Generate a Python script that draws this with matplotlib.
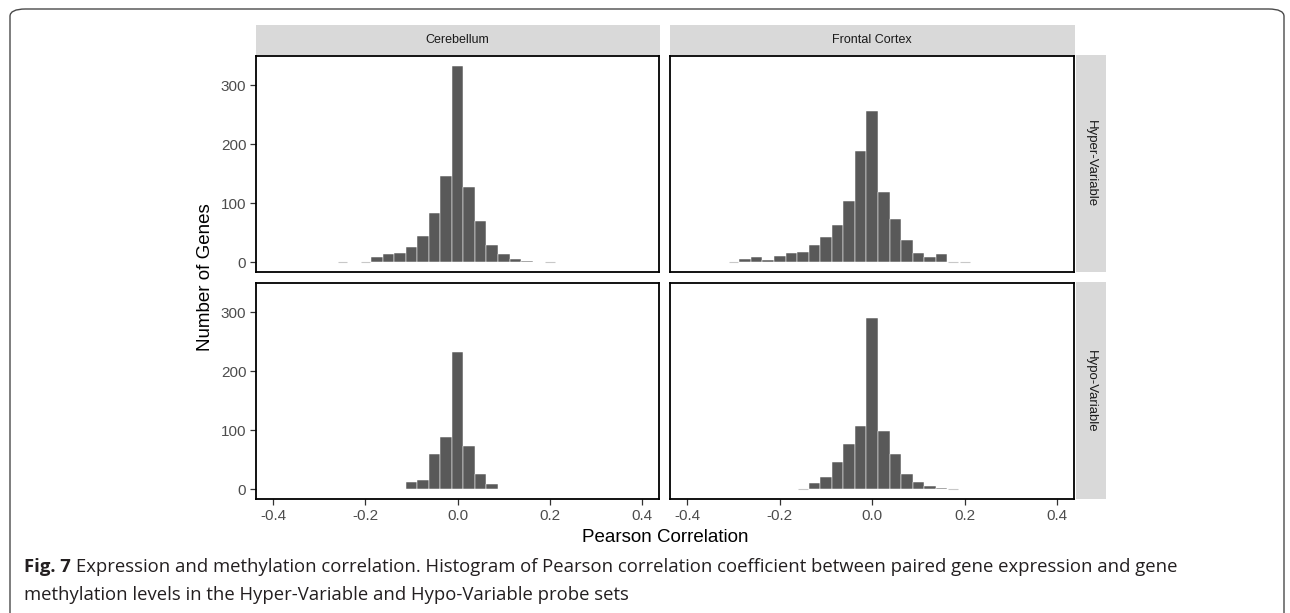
import numpy as np
import matplotlib.pyplot as plt
from matplotlib.patches import FancyBboxPatch, Rectangle

# histogram counts, bins of width 0.025 centred on k*0.025
bin_width = 0.025
regions = ['Cerebellum', 'Frontal Cortex']
probe_sets = ['Hyper-Variable', 'Hypo-Variable']

cereb_hyper_start = -10
cereb_hyper = [1, 0, 1, 9, 14, 15, 26, 45, 83, 146, 333, 128, 69, 29, 14, 6, 2, 0, 1]
frontal_hyper_start = -12
frontal_hyper = [1, 6, 8, 4, 11, 15, 17, 29, 43, 63, 103, 189, 256, 119, 73, 37, 15, 8, 14, 1, 1]
cereb_hypo_start = -4
cereb_hypo = [13, 15, 60, 88, 233, 73, 25, 8]
frontal_hypo_start = -6
frontal_hypo = [1, 11, 20, 46, 76, 107, 291, 99, 60, 25, 13, 6, 2, 1]

panels = {
    ('Hyper-Variable', 'Cerebellum'): (cereb_hyper_start, cereb_hyper),
    ('Hyper-Variable', 'Frontal Cortex'): (frontal_hyper_start, frontal_hyper),
    ('Hypo-Variable', 'Cerebellum'): (cereb_hypo_start, cereb_hypo),
    ('Hypo-Variable', 'Frontal Cortex'): (frontal_hypo_start, frontal_hypo),
}

W, H = 1290, 613
fig = plt.figure(figsize=(W / 100, H / 100), dpi=100)
plt.rcParams['font.family'] = ['Liberation Sans', 'DejaVu Sans']

def px(x0, y0, x1, y1):
    # pixel box (top-left origin) -> figure fraction
    return [x0 / W, 1 - y1 / H, (x1 - x0) / W, (y1 - y0) / H]

# outer rounded frame
frame = FancyBboxPatch((10 / W, -0.2), (W - 16) / W, 1.2 - 9 / H,
                       boxstyle='round,pad=0,rounding_size=0.012',
                       transform=fig.transFigure, fill=False,
                       edgecolor='#4a4a4a', linewidth=1.0)
fig.add_artist(frame)

col_x = [(256, 659), (670, 1074)]
row_y = [(56, 272), (283, 499)]
ymax = max(max(v) for _, v in panels.values())
ylim = (-0.05 * ymax, 1.05 * ymax)

for r, pset in enumerate(probe_sets):
    for c, reg in enumerate(regions):
        x0, x1 = col_x[c]
        y0, y1 = row_y[r]
        ax = fig.add_axes(px(x0, y0, x1, y1))
        start, counts = panels[(pset, reg)]
        counts = np.array(counts)
        centers = (np.arange(len(counts)) + start) * bin_width
        nz = counts > 0
        ax.bar(centers[nz], counts[nz], width=bin_width, color='#595959',
               edgecolor='white', linewidth=0.35)
        # single-gene bins show up as faint grey slivers
        one = counts == 1
        if one.any():
            ax.bar(centers[one], counts[one], width=bin_width * 0.85,
                   color='none', edgecolor='#c8c8c8', linewidth=0.8)
        ax.set_xlim(-0.4375, 0.4367)
        ax.set_ylim(*ylim)
        ax.set_xticks([-0.4, -0.2, 0.0, 0.2, 0.4])
        ax.set_yticks([0, 100, 200, 300])
        for s in ax.spines.values():
            s.set_linewidth(1.3)
            s.set_color('black')
        ax.tick_params(length=4, width=0.9, color='#333333',
                       labelsize=11, labelcolor='#4d4d4d', pad=3)
        if c != 0:
            ax.tick_params(axis='y', left=False, labelleft=False)
        if r != 1:
            ax.tick_params(axis='x', bottom=False, labelbottom=False)
        else:
            ax.set_xticklabels(['-0.4', '-0.2', '0.0', '0.2', '0.4'])

# column strips
for c, reg in enumerate(regions):
    x0, x1 = col_x[c]
    fig.add_artist(Rectangle((x0 / W, 1 - 55 / H), (x1 - x0 + 1) / W, 30 / H,
                             transform=fig.transFigure, facecolor='#d9d9d9',
                             edgecolor='none'))
    fig.text((x0 + x1) / 2 / W, 1 - 40 / H, reg, ha='center', va='center',
             fontsize=9, color='#1a1a1a')

# row strips
for r, pset in enumerate(probe_sets):
    y0, y1 = row_y[r]
    fig.add_artist(Rectangle((1076 / W, 1 - y1 / H), 30 / W, (y1 - y0 + 1) / H,
                             transform=fig.transFigure, facecolor='#d9d9d9',
                             edgecolor='none'))
    fig.text(1091 / W, 1 - (y0 + y1) / 2 / H, pset, ha='center', va='center',
             rotation=-90, fontsize=9.5, color='#1a1a1a')

fig.text(205 / W, 1 - 277 / H, 'Number of Genes', rotation=90,
         ha='center', va='center', fontsize=13.5, color='black')
fig.text(665 / W, 1 - 537 / H, 'Pearson Correlation', ha='center',
         va='center', fontsize=13.5, color='black')

# caption
cap_font = ['Open Sans', 'DejaVu Sans']
cap_size = 13.3
t1 = fig.text(24 / W, 1 - 567 / H, 'Fig. 7', ha='left', va='center',
              fontsize=cap_size, fontweight='bold', family=cap_font, color='#231f20')
renderer = fig.canvas.get_renderer()
end_x = t1.get_window_extent(renderer).x1
fig.text((end_x + 5) / W, 1 - 567 / H,
         'Expression and methylation correlation. Histogram of Pearson correlation '
         'coefficient between paired gene expression and gene',
         ha='left', va='center', fontsize=cap_size, family=cap_font, color='#231f20')
fig.text(24 / W, 1 - 595 / H,
         'methylation levels in the Hyper-Variable and Hypo-Variable probe sets',
         ha='left', va='center', fontsize=cap_size, family=cap_font, color='#231f20')

fig.savefig('out.png', dpi=100)
